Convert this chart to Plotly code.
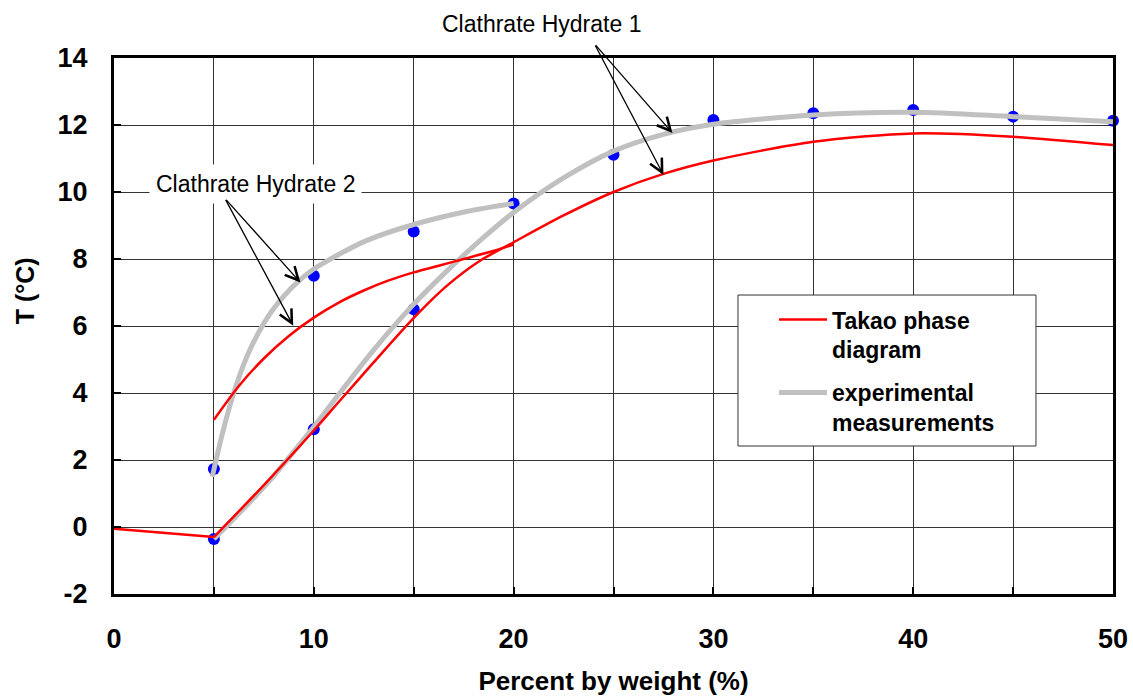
import plotly.graph_objects as go

# ---- data ----
takao_base_x = [0, 5]
takao_base_y = [-0.05, -0.3]

takao_h2_x = [5, 6.25, 7.5, 8.75, 10, 11.25, 12.5, 13.75, 15, 16.25, 17.5, 18.75, 20]
takao_h2_y = [3.2, 4.21, 5.03, 5.70, 6.25, 6.70, 7.06, 7.36, 7.6, 7.8, 8.0, 8.2, 8.43]

takao_h1_x = [5, 7.5, 10, 11.29, 12.96, 14.97, 16.64, 18.3, 20, 22.5, 25, 27.5, 30, 35, 40, 45, 50]
takao_h1_y = [-0.3, 1.25, 2.88, 3.76, 4.89, 6.22, 7.19, 7.94, 8.5, 9.3, 10.0, 10.54, 10.94, 11.5, 11.75, 11.65, 11.4]

exp_h2_x = [4.92, 5.25, 5.65, 6.12, 6.78, 7.7, 8.5, 9.28, 10, 11.29, 12.63, 15, 17.64, 20]
exp_h2_y = [1.5, 2.36, 3.30, 4.24, 5.26, 6.27, 6.89, 7.36, 7.70, 8.15, 8.55, 9.03, 9.42, 9.66]

exp_h1_x = [5, 7.5, 10, 11.29, 12.96, 14.97, 16.64, 18.3, 20, 22.5, 25, 27.5, 30, 35, 40, 45, 50]
exp_h1_y = [-0.36, 1.19, 2.99, 3.99, 5.26, 6.63, 7.63, 8.54, 9.39, 10.42, 11.22, 11.72, 12.02, 12.3, 12.38, 12.25, 12.1]

meas_x = [5, 5, 10, 10, 15, 15, 20, 25, 30, 35, 40, 45, 50]
meas_y = [-0.36, 1.73, 2.92, 7.5, 6.5, 8.82, 9.66, 11.11, 12.15, 12.35, 12.45, 12.25, 12.13]

x_tick_vals = [0, 5, 10, 15, 20, 25, 30, 35, 40, 45, 50]
x_tick_text = ["0", "", "10", "", "20", "", "30", "", "40", "", "50"]
y_tick_vals = [-2, 0, 2, 4, 6, 8, 10, 12, 14]
y_tick_text = ["-2", "0", "2", "4", "6", "8", "10", "12", "14"]

FONT = "Liberation Sans, Arial, sans-serif"
RED = "#FF0000"
GRAY = "#C0C0C0"

fig = go.Figure()

# measured points
fig.add_trace(go.Scatter(x=meas_x, y=meas_y, mode="markers",
                         marker=dict(color="#0000FF", size=12),
                         showlegend=False, cliponaxis=False))

# experimental curves (gray)
fig.add_trace(go.Scatter(x=exp_h2_x, y=exp_h2_y, mode="lines",
                         line=dict(color=GRAY, width=5, shape="spline", smoothing=0.8),
                         showlegend=False))
fig.add_trace(go.Scatter(x=exp_h1_x, y=exp_h1_y, mode="lines",
                         line=dict(color=GRAY, width=5, shape="spline", smoothing=0.8),
                         name="experimental<br>measurements", legendgroup="b", legendrank=2))

# Takao phase diagram (red)
fig.add_trace(go.Scatter(x=takao_base_x, y=takao_base_y, mode="lines",
                         line=dict(color=RED, width=2.5), showlegend=False))
fig.add_trace(go.Scatter(x=takao_h2_x, y=takao_h2_y, mode="lines",
                         line=dict(color=RED, width=2.5, shape="spline", smoothing=0.8),
                         showlegend=False))
fig.add_trace(go.Scatter(x=takao_h1_x, y=takao_h1_y, mode="lines",
                         line=dict(color=RED, width=2.5, shape="spline", smoothing=0.8),
                         name="Takao phase<br>diagram", legendgroup="a", legendrank=1))

# annotations
ann_font = dict(family=FONT, size=23, color="black")
annotations = [
    dict(x=7.06, y=10.24, xref="x", yref="y", text="Clathrate Hydrate 2", showarrow=False,
         font=ann_font, bgcolor="white", borderpad=6),
    dict(x=0.428, y=1.0634, xref="paper", yref="paper", text="Clathrate Hydrate 1",
         showarrow=False, xanchor="center", yanchor="middle", font=ann_font),
]
arrows = [
    ((5.55, 9.81), (9.33, 7.3)),
    ((5.55, 9.81), (8.97, 6.01)),
    ((24.05, 14.42), (27.95, 11.76)),
    ((24.05, 14.42), (27.5, 10.51)),
]
for (tx, ty), (hx, hy) in arrows:
    annotations.append(dict(x=hx, y=hy, ax=tx, ay=ty, xref="x", yref="y", axref="x", ayref="y",
                            text="", showarrow=True, arrowhead=5, arrowsize=2.0,
                            arrowwidth=1.3, arrowcolor="black", standoff=0, startstandoff=0))

# y axis title as rotated text
annotations.append(dict(x=-0.089, y=0.565, xref="paper", yref="paper", text="<b>T (°C)</b>",
                        textangle=-90, showarrow=False, xanchor="center", yanchor="middle",
                        font=dict(family=FONT, size=25, color="black")))

# legend frame
shapes = [dict(type="rect", xref="paper", yref="paper",
               x0=0.6246, x1=0.9229, y0=0.2761, y1=0.5578,
               line=dict(color="#333333", width=1), fillcolor="white", layer="above")]

fig.update_layout(
    width=1133, height=696,
    margin=dict(l=114, r=20, t=58, b=102),
    paper_bgcolor="white", plot_bgcolor="white",
    font=dict(family=FONT, color="black"),
    annotations=annotations,
    shapes=shapes,
    showlegend=True,
    legend=dict(x=0.6607, y=0.552, xanchor="left", yanchor="top",
                bgcolor="rgba(0,0,0,0)", borderwidth=0,
                font=dict(family=FONT, size=23, color="black", weight="bold"),
                itemwidth=48, valign="top", traceorder="grouped", tracegroupgap=10),
    xaxis=dict(range=[0, 50], tickvals=x_tick_vals, ticktext=x_tick_text,
               ticks="inside", ticklen=7, tickwidth=2, tickcolor="black",
               showgrid=True, gridcolor="#333333", gridwidth=1,
               showline=True, linecolor="black", linewidth=3, mirror=True,
               zeroline=False, ticklabelstandoff=19, automargin=False,
               tickfont=dict(family=FONT, size=27, color="black", weight="bold"),
               title=dict(text="<b>Percent by weight (%)</b>", standoff=21,
                          font=dict(family=FONT, size=26, color="black"))),
    yaxis=dict(range=[-2, 14], tickvals=y_tick_vals, ticktext=y_tick_text,
               ticks="inside", ticklen=7, tickwidth=2, tickcolor="black",
               showgrid=True, gridcolor="#333333", gridwidth=1,
               showline=True, linecolor="black", linewidth=3, mirror=True,
               zeroline=False, ticklabelstandoff=18, automargin=False,
               tickfont=dict(family=FONT, size=27, color="black", weight="bold")),
)

fig.write_html("out.html", config={"displayModeBar": False},
               post_script="document.body.style.margin='0';")
